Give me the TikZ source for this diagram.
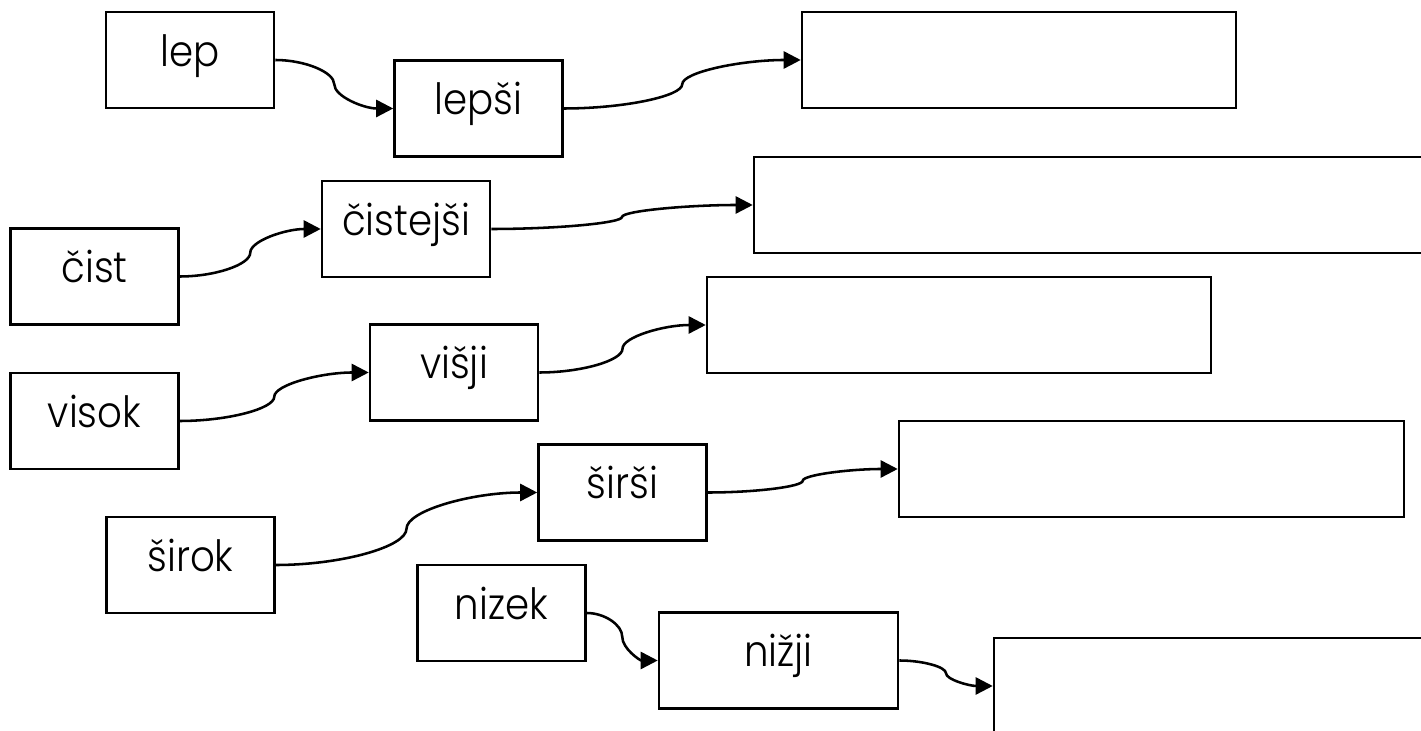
\documentclass[tikz,border=0pt]{standalone}
\usepackage{fontspec}
\setmainfont[FakeStretch=0.9,UprightFont=* Light]{Poppins}
\usetikzlibrary{arrows.meta,calc}

\begin{document}
\begin{tikzpicture}[>={Triangle[length=0.34cm,width=0.34cm]}, line width=1.45pt,
	word/.style={draw,rectangle,minimum height=1.92cm,minimum width=3.36cm,text height=0.7cm,text depth=0.44cm,font=\fontsize{24.5}{28}\selectfont},
	blank/.style={draw,rectangle,minimum height=1.92cm},
	scurve/.style={to path={let \p1=(\tikztostart), \p2=(\tikztotarget), \p3=($(\p1)!0.5!(\p2)$) in
		.. controls +({(\x2-\x1)/4},0pt) and +(0pt,{(\y1-\y2)/4}) .. (\p3)
		.. controls +(0pt,{(\y2-\y1)/4}) and +({(\x1-\x2)/4},0pt) .. (\p2)}}]

	\useasboundingbox (0,0) rectangle (28.42,-14.62);
	\clip (0,0) rectangle (28.42,-14.62);

	% besede
	\node[word] (lep) at (3.80,-1.20) {lep};
	\node[word] (lepsi) at (9.57,-2.17) {lepši};
	\node[word] (cist) at (1.89,-5.53) {čist};
	\node[word] (cistejsi) at (8.12,-4.58) {čistejši};
	\node[word] (visok) at (1.89,-8.42) {visok};
	\node[word] (visji) at (9.08,-7.45) {višji};
	\node[word] (sirok) at (3.81,-11.30) {širok};
	\node[word] (sirsi) at (12.45,-9.85) {širši};
	\node[word] (nizek) at (10.03,-12.26) {nizek};
	\node[word,minimum width=4.78cm] (nizji) at (15.57,-13.21) {nižji};

	% prazni okvirji
	\node[blank,minimum width=8.68cm] (lepnaj) at (20.38,-1.20) {};
	\node[blank,minimum width=13.72cm] (cistnaj) at (21.94,-4.10) {};
	\node[blank,minimum width=10.08cm] (visnaj) at (19.18,-6.50) {};
	\node[blank,minimum width=10.10cm] (sirnaj) at (23.03,-9.38) {};
	\node[blank,minimum width=8.92cm] (niznaj) at (24.34,-13.72) {};

	% puscice
	\draw [->] (lep.east) to[scurve] (lepsi.west);
	\draw [->] (lepsi.east) to[scurve] (lepnaj.west);
	\draw [->] (cist.east) to[scurve] (cistejsi.west);
	\draw [->] (cistejsi.east) to[scurve] (cistnaj.west);
	\draw [->] (visok.east) to[scurve] (visji.west);
	\draw [->] (visji.east) to[scurve] (visnaj.west);
	\draw [->] (sirok.east) to[scurve] (sirsi.west);
	\draw [->] (sirsi.east) to[scurve] (sirnaj.west);
	\draw [->] (nizek.east) to[scurve] (nizji.west);
	\draw [->] (nizji.east) to[scurve] (niznaj.west);

\end{tikzpicture}
\end{document}
